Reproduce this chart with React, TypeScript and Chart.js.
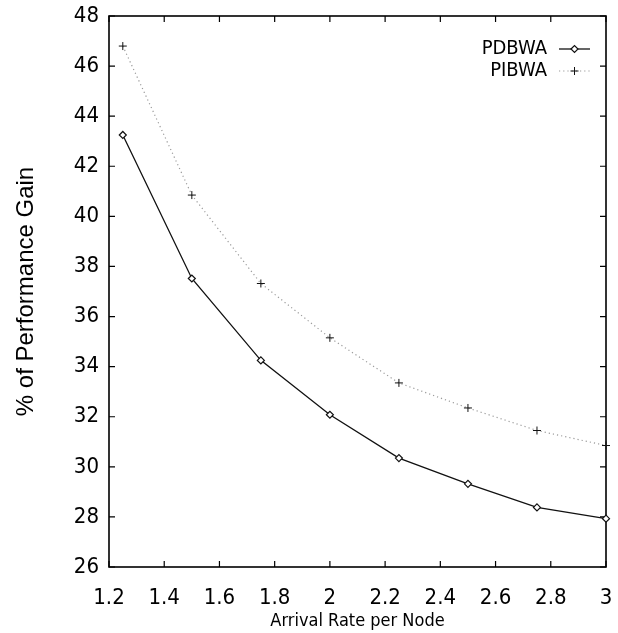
import React, { useEffect, useRef } from "react";
import { Chart, registerables } from "chart.js";

Chart.register(...registerables);

// ---- data ----
const arrivalRates = [1.25, 1.5, 1.75, 2, 2.25, 2.5, 2.75, 3];
const pdbwaGain = [43.25, 37.52, 34.25, 32.08, 30.35, 29.32, 28.38, 27.93];
const pibwaGain = [46.8, 40.85, 37.32, 35.15, 33.35, 32.35, 31.45, 30.85];
const seriesLabels = ["PDBWA", "PIBWA"];
const xTickValues = [1.2, 1.4, 1.6, 1.8, 2, 2.2, 2.4, 2.6, 2.8, 3];
const yTickValues = [26, 28, 30, 32, 34, 36, 38, 40, 42, 44, 46, 48];
const xAxisTitle = "Arrival Rate per Node";
const yAxisTitle = "% of Performance Gain";

const NARROW = "'Liberation Sans Narrow', 'DejaVu Sans Condensed', 'Liberation Sans', sans-serif";
const REGULAR = "'Liberation Sans', Arial, sans-serif";

function drawMarker(ctx: CanvasRenderingContext2D, style: string, x: number, y: number, r: number) {
  ctx.beginPath();
  if (style === "rectRot") {
    ctx.moveTo(x - r, y);
    ctx.lineTo(x, y - r);
    ctx.lineTo(x + r, y);
    ctx.lineTo(x, y + r);
    ctx.closePath();
    ctx.fillStyle = "#fff";
    ctx.fill();
    ctx.stroke();
  } else {
    ctx.moveTo(x - r, y);
    ctx.lineTo(x + r, y);
    ctx.moveTo(x, y - r);
    ctx.lineTo(x, y + r);
    ctx.stroke();
  }
}

const framePlugin = {
  id: "gnuFrame",
  beforeDatasetsDraw(chart: any) {
    const { ctx, chartArea, scales } = chart;
    const { left, right, top, bottom } = chartArea;
    ctx.save();
    ctx.strokeStyle = "#000";
    ctx.lineWidth = 1.2;
    const tl = 6;
    ctx.beginPath();
    for (const t of scales.x.ticks) {
      const px = scales.x.getPixelForValue(t.value);
      ctx.moveTo(px, bottom);
      ctx.lineTo(px, bottom - tl);
      ctx.moveTo(px, top);
      ctx.lineTo(px, top + tl);
    }
    for (const t of scales.y.ticks) {
      const py = scales.y.getPixelForValue(t.value);
      ctx.moveTo(left, py);
      ctx.lineTo(left + tl, py);
      ctx.moveTo(right, py);
      ctx.lineTo(right - tl, py);
    }
    ctx.stroke();
    ctx.lineWidth = 1.6;
    ctx.strokeRect(left, top, right - left, bottom - top);
    ctx.restore();
  },
};

const legendPlugin = {
  id: "gnuLegend",
  afterDatasetsDraw(chart: any) {
    const { ctx, chartArea } = chart;
    const textRight = chartArea.right - 59;
    const x1 = chartArea.right - 47;
    const x2 = chartArea.right - 16;
    ctx.save();
    ctx.font = `20px ${NARROW}`;
    ctx.textAlign = "right";
    ctx.textBaseline = "middle";
    chart.data.datasets.forEach((ds: any, i: number) => {
      const y = chartArea.top + 33 + i * 22;
      ctx.fillStyle = "#000";
      ctx.fillText(ds.label, textRight, y);
      ctx.beginPath();
      ctx.setLineDash(ds.borderDash || []);
      ctx.strokeStyle = ds.borderColor;
      ctx.lineWidth = ds.borderWidth;
      ctx.moveTo(x1, y);
      ctx.lineTo(x2, y);
      ctx.stroke();
      ctx.setLineDash([]);
      ctx.strokeStyle = ds.pointBorderColor;
      ctx.lineWidth = ds.pointBorderWidth;
      drawMarker(ctx, ds.pointStyle, (x1 + x2) / 2, y, ds.pointRadius);
    });
    ctx.restore();
  },
};

export default function App() {
  const ref = useRef<HTMLCanvasElement | null>(null);

  useEffect(() => {
    if (!ref.current) return;
    const chart = new Chart(ref.current, {
      type: "line",
      data: {
        datasets: [
          {
            label: seriesLabels[0],
            data: arrivalRates.map((x, i) => ({ x, y: pdbwaGain[i] })),
            borderColor: "#111",
            borderWidth: 1.3,
            pointStyle: "rectRot",
            pointRadius: 3.5,
            pointBackgroundColor: "#fff",
            pointBorderColor: "#111",
            pointBorderWidth: 1.2,
            tension: 0,
            clip: false as any,
          },
          {
            label: seriesLabels[1],
            data: arrivalRates.map((x, i) => ({ x, y: pibwaGain[i] })),
            borderColor: "#9a9a9a",
            borderWidth: 1.2,
            borderDash: [1.2, 3],
            pointStyle: "cross",
            pointRadius: 4,
            pointBorderColor: "#111",
            pointBorderWidth: 1,
            tension: 0,
            clip: false as any,
          },
        ],
      },
      options: {
        responsive: false,
        animation: false,
        layout: { padding: { left: 0, right: 12, top: 16, bottom: 0 } },
        plugins: { legend: { display: false }, tooltip: { enabled: false } },
        scales: {
          x: {
            type: "linear",
            min: 1.2,
            max: 3,
            grid: { display: false, drawTicks: false },
            border: { display: false },
            afterBuildTicks: (s: any) => {
              s.ticks = xTickValues.map((value) => ({ value }));
            },
            afterFit: (s: any) => {
              s.height = 66;
              s.paddingLeft = 0;
              s.paddingRight = 0;
              s.paddingTop = 0;
              s.paddingBottom = 0;
            },
            ticks: {
              autoSkip: false,
              maxRotation: 0,
              padding: 18,
              color: "#000",
              font: { family: NARROW, size: 22 },
              callback: (v: any) => String(v),
            },
            title: {
              display: true,
              text: xAxisTitle,
              color: "#000",
              font: { family: NARROW, size: 18 },
              padding: { top: 0, bottom: 1 },
            },
          },
          y: {
            type: "linear",
            min: 26,
            max: 48,
            grid: { display: false, drawTicks: false },
            border: { display: false },
            afterBuildTicks: (s: any) => {
              s.ticks = yTickValues.map((value) => ({ value }));
            },
            afterFit: (s: any) => {
              s.width = 109;
              s.paddingLeft = 0;
              s.paddingRight = 0;
              s.paddingTop = 0;
              s.paddingBottom = 0;
            },
            ticks: {
              autoSkip: false,
              padding: 10,
              color: "#000",
              font: { family: NARROW, size: 22 },
              callback: (v: any) => String(v),
            },
            title: {
              display: true,
              text: yAxisTitle,
              color: "#000",
              font: { family: REGULAR, size: 24 },
              padding: { top: 12, bottom: 0 },
            },
          },
        },
      },
      plugins: [framePlugin, legendPlugin],
    });
    return () => chart.destroy();
  }, []);

  return (
    <div style={{ position: "fixed", left: 0, top: 0, width: 618, height: 633, background: "#fff" }}>
      <canvas ref={ref} width={618} height={633} style={{ display: "block" }} />
    </div>
  );
}
